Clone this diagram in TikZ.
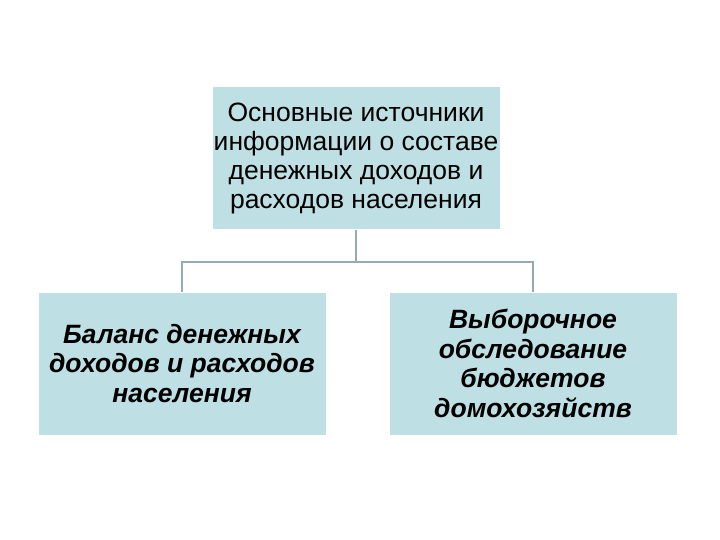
\documentclass[tikz,border=0pt]{standalone}
\usepackage{fontspec}
\setmainfont{Liberation Sans}
\begin{document}
\begin{tikzpicture}[x=1pt,y=-1pt,
  box/.style={fill=boxc,draw=white,line width=1pt,minimum width=288pt,minimum height=143pt,align=center,inner sep=0pt},
  conn/.style={draw=linec,line width=1.5pt}]
\definecolor{boxc}{RGB}{190,224,228}
\definecolor{linec}{RGB}{150,170,180}
\useasboundingbox (0,0) rectangle (720,540);
\node[box,font=\fontsize{26.5}{29}\selectfont] (top) at (356,158) {Основные источники\\информации о составе\\денежных доходов и\\расходов населения};
\node[box,font=\fontsize{26.5}{29.5}\selectfont\bfseries\itshape] (l) at (182,363.5) {Баланс денежных\\доходов и расходов\\населения};
\node[box,font=\fontsize{26.5}{29.5}\selectfont\bfseries\itshape] (r) at (533,363.5) {Выборочное\\обследование\\бюджетов\\домохозяйств};
\coordinate (m) at (356,262);
\draw[conn] (top.south) -- (m);
\draw[conn] (l.north) -- (l.north |- m) -- (r.north |- m) -- (r.north);
\end{tikzpicture}
\end{document}
